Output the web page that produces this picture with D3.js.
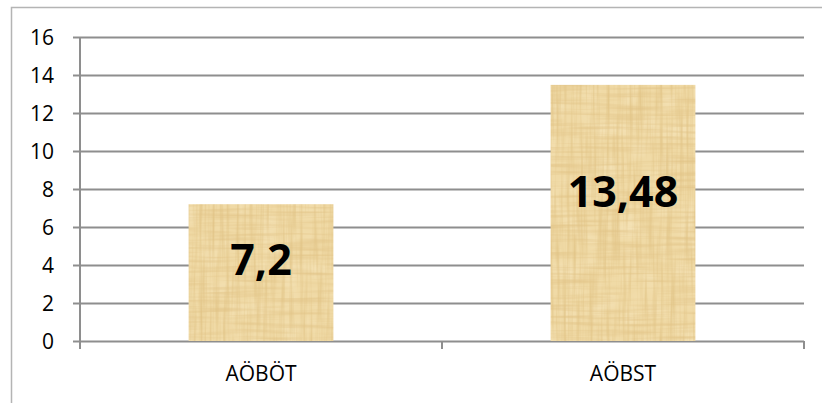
<!DOCTYPE html>
<html>
<head>
<meta charset="utf-8">
<script src="https://cdn.jsdelivr.net/npm/d3@7"></script>
<style>
  html, body { margin: 0; padding: 0; background: #fff; }
  svg { display: block; }
</style>
</head>
<body>
<svg id="chart" width="822" height="403"></svg>
<script>
// Chart data
const categories = ["AÖBÖT", "AÖBST"];
const values = [7.2, 13.48];
const valueLabels = ["7,2", "13,48"];
const yTicks = [0, 2, 4, 6, 8, 10, 12, 14, 16];

const W = 822, H = 403;
const plot = { left: 80, right: 804, top: 37, bottom: 341 };
const gridColor = "#8e8e8e";

const svg = d3.select("#chart");

// Papyrus-like fill: a tan base with soft fibre noise in both directions
const defs = svg.append("defs");
const f = defs.append("filter").attr("id", "papyrus")
  .attr("x", 0).attr("y", 0).attr("width", 1).attr("height", 1)
  .attr("color-interpolation-filters", "sRGB");
f.append("feFlood").attr("flood-color", "#f0daa6").attr("result", "base");
f.append("feTurbulence").attr("type", "fractalNoise")
  .attr("baseFrequency", "0.05 0.05").attr("numOctaves", 1).attr("seed", 2).attr("result", "nl");
f.append("feColorMatrix").attr("in", "nl").attr("type", "matrix")
  .attr("values", "0 0 0 0 0.97  0 0 0 0 0.91  0 0 0 0 0.76  1.6 0 0 0 -0.75")
  .attr("result", "cl");
f.append("feTurbulence").attr("type", "fractalNoise")
  .attr("baseFrequency", "0.3 0.015").attr("numOctaves", 2).attr("seed", 4).attr("result", "nv");
f.append("feColorMatrix").attr("in", "nv").attr("type", "matrix")
  .attr("values", "0 0 0 0 0.87  0 0 0 0 0.75  0 0 0 0 0.50  1.5 0 0 0 -0.62")
  .attr("result", "cv");
f.append("feTurbulence").attr("type", "fractalNoise")
  .attr("baseFrequency", "0.015 0.3").attr("numOctaves", 2).attr("seed", 9).attr("result", "nh");
f.append("feColorMatrix").attr("in", "nh").attr("type", "matrix")
  .attr("values", "0 0 0 0 0.88  0 0 0 0 0.76  0 0 0 0 0.52  1.5 0 0 0 -0.62")
  .attr("result", "ch");
const merge = f.append("feMerge").attr("result", "tex");
merge.append("feMergeNode").attr("in", "base");
merge.append("feMergeNode").attr("in", "cl");
merge.append("feMergeNode").attr("in", "cv");
merge.append("feMergeNode").attr("in", "ch");
f.append("feGaussianBlur").attr("in", "tex").attr("stdDeviation", 0.7).attr("result", "soft");
f.append("feComposite").attr("in", "soft").attr("in2", "SourceAlpha").attr("operator", "in");

// Outer chart frame
svg.append("rect")
  .attr("x", 11.5).attr("y", 7.5).attr("width", W + 20).attr("height", H + 20)
  .attr("fill", "none").attr("stroke", "#b4b4b4").attr("stroke-width", 1.5);

const y = d3.scaleLinear().domain([0, 16]).range([plot.bottom, plot.top]);
const x = d3.scaleBand().domain(categories)
  .range([plot.left, plot.right]).paddingInner(0.6).paddingOuter(0.3);

// Horizontal gridlines (with the short outward tick on the left)
const grid = svg.append("g")
  .attr("transform", `translate(${plot.left},0)`)
  .call(d3.axisLeft(y).tickValues(yTicks)
    .tickSizeInner(-(plot.right - plot.left)).tickSizeOuter(0).tickFormat(""));
grid.select(".domain").remove();
grid.selectAll(".tick line").attr("stroke", gridColor).attr("stroke-width", 2);

const yAxis = svg.append("g")
  .attr("transform", `translate(${plot.left},0)`)
  .call(d3.axisLeft(y).tickValues(yTicks).tickSize(7).tickPadding(19).tickFormat(d3.format("d")));
yAxis.select(".domain").remove();
yAxis.selectAll(".tick line").attr("stroke", gridColor).attr("stroke-width", 2);
yAxis.selectAll(".tick text")
  .attr("font-family", "'Open Sans', sans-serif").attr("font-size", 21)
  .attr("fill", "#000").attr("dy", "0.36em");

// Vertical axis line
svg.append("line")
  .attr("x1", plot.left).attr("x2", plot.left)
  .attr("y1", y(16)).attr("y2", plot.bottom + 8)
  .attr("stroke", gridColor).attr("stroke-width", 2);

// Category boundary ticks under the baseline
const gap = (x.step() - x.bandwidth()) / 2;
const bounds = categories.map(c => x(c) - gap).concat([x(categories[categories.length - 1]) + x.bandwidth() + gap]);
svg.append("g").selectAll("line").data(bounds).join("line")
  .attr("x1", d => d).attr("x2", d => d)
  .attr("y1", plot.bottom).attr("y2", plot.bottom + 8)
  .attr("stroke", gridColor).attr("stroke-width", 2);

// Category labels
svg.append("g").selectAll("text").data(categories).join("text")
  .attr("x", d => x(d) + x.bandwidth() / 2)
  .attr("y", 381)
  .attr("text-anchor", "middle")
  .attr("font-family", "'Open Sans', sans-serif").attr("font-size", 21)
  .attr("fill", "#000")
  .text(d => d);

// Bars
const rows = categories.map((c, i) => ({ c, v: values[i], label: valueLabels[i] }));
svg.append("g").selectAll("rect").data(rows).join("rect")
  .attr("x", d => x(d.c))
  .attr("y", d => y(d.v))
  .attr("width", x.bandwidth())
  .attr("height", d => y(0) - y(d.v))
  .attr("fill", "#f0daa6")
  .attr("filter", "url(#papyrus)");

// Value labels inside the bars, set a little above the bar middle on taller bars
svg.append("g").selectAll("text").data(rows).join("text")
  .attr("x", d => x(d.c) + x.bandwidth() / 2)
  .attr("y", d => y(d.v * 0.57 - 0.64))
  .attr("text-anchor", "middle")
  .attr("font-family", "'Open Sans', sans-serif").attr("font-weight", 700)
  .attr("font-size", 43)
  .attr("fill", "#000")
  .text(d => d.label);
</script>
</body>
</html>
